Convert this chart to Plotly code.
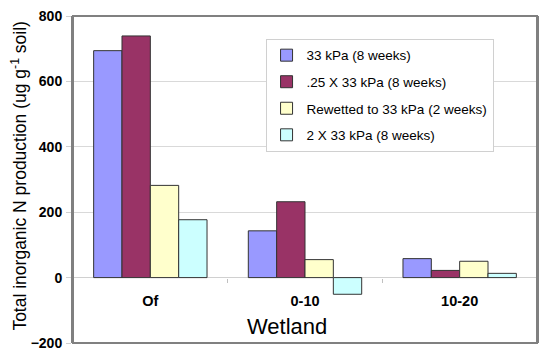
import plotly.graph_objects as go

categories = ["Of", "0-10", "10-20"]
series_names = ["33 kPa (8 weeks)", ".25 X 33 kPa (8 weeks)",
                "Rewetted to 33 kPa (2 weeks)", "2 X 33 kPa (8 weeks)"]
kpa33 = [694, 143, 58]
kpa33_quarter = [739, 232, 22]
rewetted = [282, 55, 50]
kpa33_double = [177, -51, 13]
y_ticks = [-200, 0, 200, 400, 600, 800]

colors = ["#9999FF", "#993366", "#FFFFCC", "#CCFFFF"]
values = [kpa33, kpa33_quarter, rewetted, kpa33_double]

fig = go.Figure()
for i, (name, vals) in enumerate(zip(series_names, values)):
    fig.add_trace(go.Bar(
        x=categories, y=vals, name=name, legendgroup=str(i),
        marker=dict(color=colors[i], line=dict(color="#333333", width=1)),
    ))

# page body has an 8px margin, so the figure is 8px smaller and shifted
fig.update_layout(
    width=542, height=352,
    margin=dict(l=65, r=13, t=8, b=17),
    paper_bgcolor="white", plot_bgcolor="white",
    barmode="group", bargap=0.267, bargroupgap=0,
    font=dict(family="Arial, Liberation Sans, sans-serif", color="black"),
    showlegend=True,
    legend=dict(x=0.415, y=0.93, xanchor="left", yanchor="top",
                bordercolor="#d0d0d0", borderwidth=1, bgcolor="white",
                font=dict(size=13.5), traceorder="grouped", tracegroupgap=6,
                itemwidth=30),
    xaxis=dict(anchor="free", position=0.2, showline=False, showgrid=False,
               automargin=False,
               ticks="outside", tickson="boundaries", ticklen=4, tickcolor="#c0c0c0",
               tickfont=dict(size=14.5, weight="bold"),
               ticklabelstandoff=13),
    yaxis=dict(range=[-200, 800], tickvals=y_ticks, showgrid=True, gridcolor="#d9d9d9",
               automargin=False, ticklabeloverflow="allow",
               showline=True, mirror=True, linecolor="#808080", linewidth=2,
               zeroline=True, zerolinecolor="#d0d0d0", zerolinewidth=1,
               ticks="outside", ticklen=5, tickcolor="#d0d0d0",
               tickfont=dict(size=14, weight="bold"), ticklabelstandoff=1),
    shapes=[dict(type="rect", xref="paper", yref="paper", x0=0, x1=1, y0=0, y1=1,
                 line=dict(color="#808080", width=2), fillcolor="rgba(0,0,0,0)",
                 layer="above")],
    annotations=[
        dict(text="Wetland", x=0.462, y=0.049, xref="paper", yref="paper",
             xanchor="center", yanchor="middle",
             showarrow=False, font=dict(size=22)),
        dict(text="Total inorganic N production (ug g<sup>-1</sup> soil)",
             x=-0.117, y=0.511, xref="paper", yref="paper", textangle=-90,
             xanchor="center", yanchor="middle",
             showarrow=False, font=dict(size=17.5)),
    ],
)

fig.write_html("out.html")
